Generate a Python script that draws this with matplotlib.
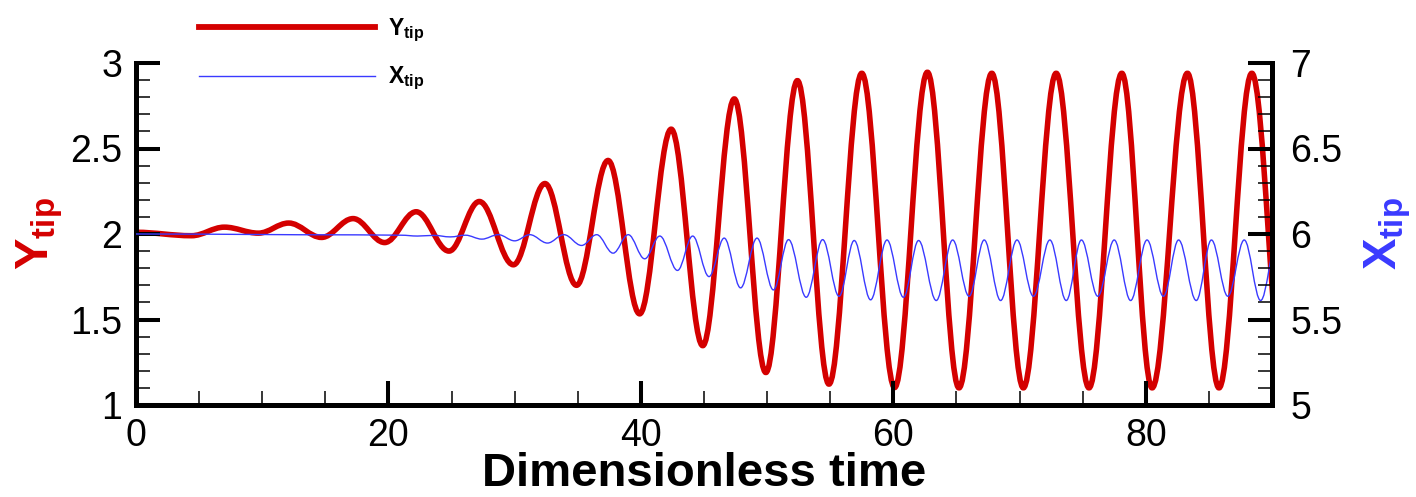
import matplotlib
matplotlib.use('Agg')
import matplotlib.pyplot as plt
from matplotlib.path import Path
from matplotlib.patches import PathPatch
from matplotlib.lines import Line2D
from matplotlib.ticker import MultipleLocator, FuncFormatter

plt.rcParams['font.family'] = ['Liberation Sans', 'DejaVu Sans']
plt.rcParams['mathtext.fontset'] = 'custom'
plt.rcParams['mathtext.rm'] = 'Liberation Sans'
plt.rcParams['mathtext.bf'] = 'Liberation Sans:bold'
plt.rcParams['mathtext.it'] = 'Liberation Sans:italic'

# ---- data (extrema of each oscillation) ----
y_tip_t = [0.0, 4.4, 7.0, 9.7, 12.1, 14.7, 17.2, 19.7, 22.2, 24.8, 27.2, 29.9,
           32.4, 34.9, 37.4, 39.9, 42.4, 44.9, 47.4, 49.9, 52.4, 54.9, 57.5,
           60.1, 62.7, 65.2, 67.8, 70.3, 72.9, 75.5, 78.1, 80.5, 83.3, 85.8,
           88.4, 91.0]
y_tip_v = [2.01, 1.99, 2.04, 2.005, 2.064, 1.98, 2.09, 1.95, 2.13, 1.90, 2.19, 1.82,
           2.295, 1.70, 2.43, 1.533, 2.613, 1.347, 2.79, 1.19, 2.897, 1.122, 2.94,
           1.102, 2.946, 1.10, 2.94, 1.10, 2.94, 1.10, 2.94, 1.10, 2.94, 1.10,
           2.94, 1.10]

x_tip_t = [0.0, 17.5, 21.0, 22.3, 23.6, 24.9, 26.1, 27.4, 28.7, 30.0, 31.2, 32.6,
           33.9, 35.3, 36.5, 37.8, 39.0, 40.3, 41.5, 42.9, 44.1, 45.4, 46.6, 47.9,
           49.2, 50.5, 51.7, 53.1, 54.4, 55.7, 56.9, 58.2, 59.5, 60.8, 62.0, 63.4,
           64.7, 66.0, 67.2, 68.5, 69.8, 71.1, 72.4, 73.7, 74.9, 76.2, 77.5, 78.8,
           80.1, 81.4, 82.6, 84.0, 85.2, 86.5, 87.8, 89.1, 90.4]
x_tip_v = [6.0, 5.995, 5.993, 5.988, 5.992, 5.983, 5.993, 5.97, 5.996, 5.96, 5.996, 5.947,
           5.996, 5.933, 5.996, 5.888, 5.996, 5.855, 5.988, 5.787, 5.988, 5.751, 5.976, 5.685,
           5.976, 5.673, 5.967, 5.630, 5.967, 5.636, 5.962, 5.615, 5.965, 5.630, 5.962, 5.611,
           5.965, 5.636, 5.965, 5.611, 5.965, 5.636, 5.965, 5.611, 5.965, 5.636, 5.965, 5.611,
           5.965, 5.636, 5.965, 5.611, 5.965, 5.636, 5.965, 5.611, 5.965]

y_label_text = r'$\mathbf{Y}_{\mathbf{tip}}$'
x2_label_text = r'$\mathbf{X}_{\mathbf{tip}}$'
xlabel_text = 'Dimensionless time'
legend_labels = [r'$\mathbf{Y}_{\mathbf{tip}}$', r'$\mathbf{X}_{\mathbf{tip}}$']

RED = '#d40000'
BLUE = '#3a3aff'


def smooth_path(ts, vs, k=0.3642):
    """Cubic Bezier segments through the extrema, horizontal tangents at each."""
    verts = [(ts[0], vs[0])]
    codes = [Path.MOVETO]
    for i in range(len(ts) - 1):
        dt = ts[i + 1] - ts[i]
        verts += [(ts[i] + k * dt, vs[i]), (ts[i + 1] - k * dt, vs[i + 1]),
                  (ts[i + 1], vs[i + 1])]
        codes += [Path.CURVE4] * 3
    return Path(verts, codes)


W, H = 1416, 497
fig = plt.figure(figsize=(W / 100, H / 100), dpi=100)
L, R, T, B = 136, 1272, 63, 405
ax = fig.add_axes([L / W, 1 - B / H, (R - L) / W, (B - T) / H])
ax2 = ax.twinx()

ax.set_xlim(0, 90)
ax.set_ylim(1, 3)
ax2.set_ylim(5, 7)

ax.add_patch(PathPatch(smooth_path(y_tip_t, y_tip_v), fill=False, edgecolor=RED,
                       linewidth=4.0, joinstyle='round', capstyle='round'))
ax2.add_patch(PathPatch(smooth_path(x_tip_t, x_tip_v), fill=False, edgecolor=BLUE,
                        linewidth=1.0))

# spines
for s in ['top', 'right']:
    ax.spines[s].set_visible(False)
for s in ['top', 'left', 'bottom']:
    ax2.spines[s].set_visible(False)
ax.spines['left'].set_linewidth(3.6)
ax.spines['bottom'].set_linewidth(3.6)
ax2.spines['right'].set_linewidth(3.6)

fmt = FuncFormatter(lambda v, p: '%g' % v)
ax.xaxis.set_major_locator(MultipleLocator(20))
ax.xaxis.set_minor_locator(MultipleLocator(5))
ax.yaxis.set_major_locator(MultipleLocator(0.5))
ax.yaxis.set_minor_locator(MultipleLocator(0.1))
ax2.yaxis.set_major_locator(MultipleLocator(0.5))
ax2.yaxis.set_minor_locator(MultipleLocator(0.1))
ax.xaxis.set_major_formatter(fmt)
ax.yaxis.set_major_formatter(fmt)
ax2.yaxis.set_major_formatter(fmt)

for a in (ax, ax2):
    a.tick_params(which='major', direction='in', length=17, width=2.9,
                  labelsize=27, pad=10)
    a.tick_params(which='minor', direction='in', length=10, width=1.1)
ax.tick_params(axis='x', which='both', top=False)
ax.tick_params(axis='x', which='major', pad=9)
ax2.tick_params(axis='y', which='major', pad=13)

ax.set_xlabel(xlabel_text, fontsize=34, fontweight='bold', labelpad=-1)

fig.text(40 / W, 1 - 234 / H, y_label_text, color=RED, fontsize=34,
         rotation=90, ha='center', va='center')
fig.text(1388 / W, 1 - 234 / H, x2_label_text, color=BLUE, fontsize=34,
         rotation=90, ha='center', va='center')

handles = [Line2D([], [], color=RED, linewidth=4.2),
           Line2D([], [], color=BLUE, linewidth=1.0)]
leg = fig.legend(handles, legend_labels,
                 loc='upper left', bbox_to_anchor=(199 / W, 1 - 17 / H),
                 frameon=False, fontsize=16.5, handlelength=7.7,
                 handletextpad=0.55, labelspacing=0.9, borderpad=0,
                 borderaxespad=0)

fig.savefig('out.png', dpi=100)
